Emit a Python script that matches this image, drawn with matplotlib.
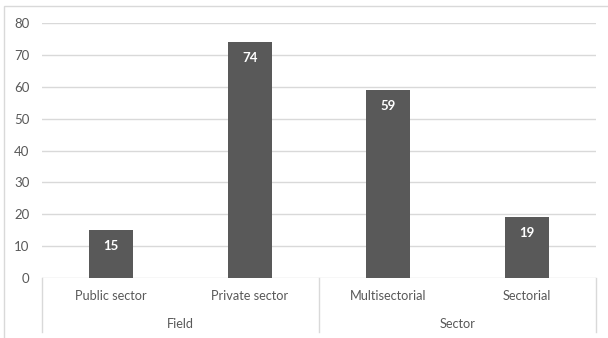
import matplotlib
matplotlib.use("Agg")
import matplotlib.pyplot as plt
from matplotlib.patches import Rectangle

categories = ["Public sector", "Private sector", "Multisectorial", "Sectorial"]
values = [15, 74, 59, 19]
groups = ["Field", "Sector"]
group_sizes = [2, 2]
yticks = [0, 10, 20, 30, 40, 50, 60, 70, 80]

W, H = 608, 338
fig = plt.figure(figsize=(W / 100, H / 100), dpi=100)
plt.rcParams['font.family'] = ['Lato', 'DejaVu Sans']

# outer border
fig.patches.append(Rectangle((4 / W, -0.1), 1.2, (338 - 6) / H + 0.1,
                             transform=fig.transFigure, fill=False,
                             edgecolor="#d9d9d9", linewidth=1.0))

left, right, bottom, top = 42 / W, 596 / W, (H - 278) / H, (H - 23) / H
ax = fig.add_axes([left, bottom, right - left, top - bottom])
n = len(categories)
x = list(range(n))
ax.bar(x, values, width=0.32, color="#595959", zorder=3)
ax.set_xlim(-0.5, n - 0.5)
ax.set_ylim(0, 80)
for s in ax.spines.values():
    s.set_visible(False)
ax.set_yticks(yticks)
ax.set_yticklabels([str(t) for t in yticks], color="#595959", fontsize=9.5)
ax.tick_params(axis="y", length=0, pad=9)
ax.set_xticks([])
for t in yticks:
    ax.axhline(t, color="#d9d9d9", linewidth=1.0, zorder=1)

# data labels
for xi, v in zip(x, values):
    ax.annotate(str(v), (xi, v), xytext=(0, -16), textcoords="offset pixels",
                ha="center", va="center", color="white", fontsize=9.5, fontweight="bold", zorder=4)

# category labels
trans = ax.get_xaxis_transform()
for xi, c in zip(x, categories):
    ax.annotate(c, (xi, 0), xycoords=trans, xytext=(0, -18), textcoords="offset pixels",
                ha="center", va="center", color="#595959", fontsize=9.2)

# group labels and separators
depth = -(332 - 278) / (278 - 23)
start = 0
bounds = [-0.5]
for g, sz in zip(groups, group_sizes):
    center = start + (sz - 1) / 2
    ax.annotate(g, (center, 0), xycoords=trans, xytext=(0, -46), textcoords="offset pixels",
                ha="center", va="center", color="#595959", fontsize=9.2)
    start += sz
    bounds.append(start - 0.5)
for b in bounds:
    ax.plot([b, b], [0, depth], transform=trans, color="#d9d9d9", linewidth=1.0, clip_on=False)

fig.savefig("out.png", dpi=100)
